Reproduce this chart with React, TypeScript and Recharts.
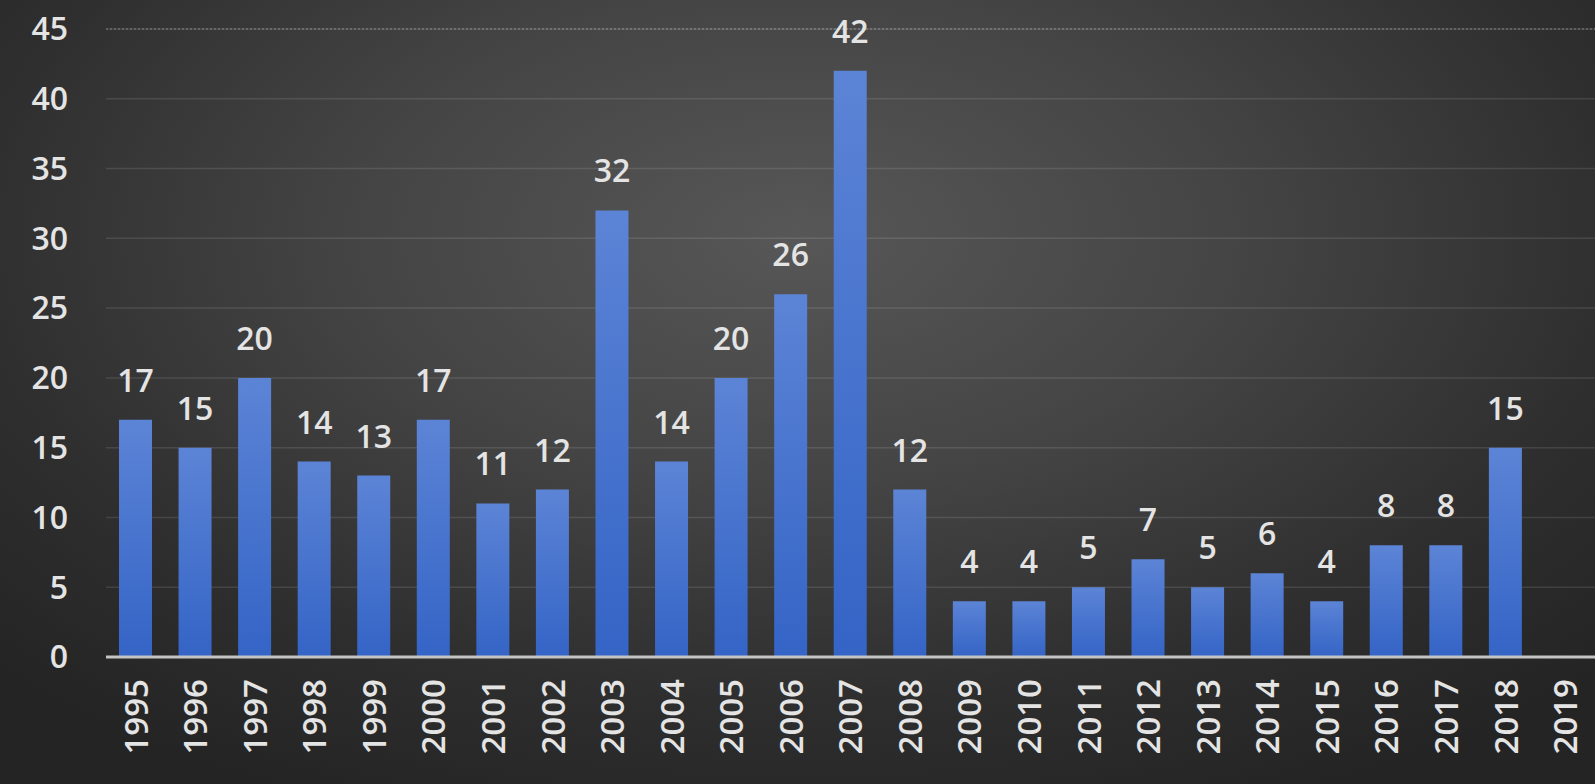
import { BarChart, Bar, XAxis, YAxis, CartesianGrid, LabelList, ReferenceLine } from 'recharts'

const years = [
  '1995', '1996', '1997', '1998', '1999', '2000', '2001', '2002', '2003', '2004',
  '2005', '2006', '2007', '2008', '2009', '2010', '2011', '2012', '2013', '2014',
  '2015', '2016', '2017', '2018', '2019',
]
const counts: (number | null)[] = [
  17, 15, 20, 14, 13, 17, 11, 12, 32, 14,
  20, 26, 42, 12, 4, 4, 5, 7, 5, 6,
  4, 8, 8, 15, null,
]
const yTicks = [0, 5, 10, 15, 20, 25, 30, 35, 40, 45]

const TEXT = '#e4e4e4'
const FONT = '"Open Sans", "Noto Sans", sans-serif'

const data = years.map((year, i) => ({ year, count: counts[i] }))

// rotated year labels, centred on the band
function YearTick(props: any) {
  const { x, y, payload } = props
  const ty = y + 14
  return (
    <text
      x={x}
      y={ty}
      transform={`rotate(-90, ${x}, ${ty})`}
      textAnchor="end"
      dy="0.36em"
      fill={TEXT}
      fontSize={33}
      fontWeight={600}
      fontFamily={FONT}
    >
      {payload.value}
    </text>
  )
}

export default function App() {
  return (
    <div
      style={{
        position: 'absolute',
        left: 0,
        top: 0,
        width: 1595,
        height: 784,
        background:
          'radial-gradient(ellipse 70% 80% at 50% 30%, #575757 0%, #444 40%, #2e2e2e 75%, #242424 100%)',
      }}
    >
      <BarChart
        width={1595}
        height={784}
        data={data}
        margin={{ top: 29, right: 0, bottom: 0, left: 0 }}
        barCategoryGap={0}
      >
        <defs>
          <linearGradient id="barFill" x1="0" y1="0" x2="0" y2="1">
            <stop offset="0%" stopColor="#5c84d6" />
            <stop offset="100%" stopColor="#3464c6" />
          </linearGradient>
        </defs>
        <CartesianGrid vertical={false} stroke="rgba(255,255,255,0.11)" strokeWidth={1.5} />
        <ReferenceLine y={45} stroke="rgba(255,255,255,0.35)" strokeDasharray="2 2" />
        <XAxis
          dataKey="year"
          height={127}
          interval={0}
          tickLine={false}
          axisLine={{ stroke: '#c4c4c4', strokeWidth: 3 }}
          tick={<YearTick />}
        />
        <YAxis
          width={106}
          domain={[0, 45]}
          ticks={yTicks}
          interval={0}
          axisLine={false}
          tickLine={false}
          tickMargin={32}
          tick={{ fill: TEXT, fontSize: 32, fontWeight: 600, fontFamily: FONT }}
        />
        <Bar dataKey="count" fill="url(#barFill)" barSize={33} isAnimationActive={false}>
          <LabelList
            dataKey="count"
            position="top"
            offset={28}
            fill={TEXT}
            fontSize={32}
            fontWeight={600}
            fontFamily={FONT}
          />
        </Bar>
      </BarChart>
    </div>
  )
}
